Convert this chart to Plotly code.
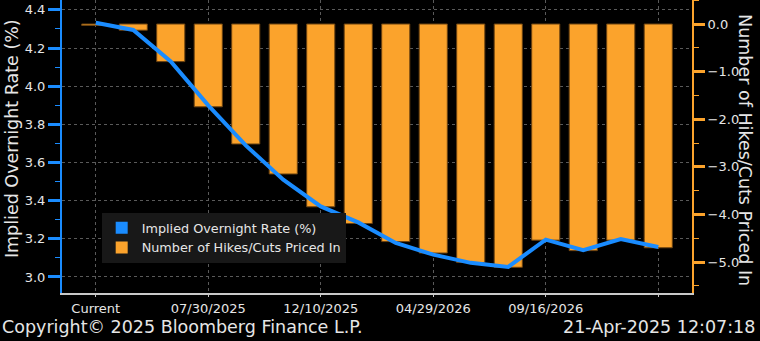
import plotly.graph_objects as go

categories = ["Current", "05/07/2025", "06/18/2025", "07/30/2025", "09/17/2025", "10/29/2025",
              "12/10/2025", "01/28/2026", "03/18/2026", "04/29/2026", "06/17/2026", "07/29/2026",
              "09/16/2026", "10/28/2026", "12/09/2026", "01/27/2027"]
implied_rate = [4.333, 4.295, 4.13, 3.90, 3.69, 3.51, 3.37, 3.286, 3.178, 3.117, 3.074, 3.053,
                3.196, 3.140, 3.199, 3.157]
hikes_cuts = [-0.03, -0.13, -0.79, -1.74, -2.52, -3.15, -3.84, -4.19, -4.57, -4.81, -5.01, -5.11,
              -4.54, -4.76, -4.54, -4.70]
x_tick_idx = [0, 3, 6, 9, 12, 15]
x_tick_text = ["Current", "07/30/2025", "12/10/2025", "04/29/2026", "09/16/2026", ""]

BLUE = "#1a8cff"
ORANGE = "#fba32c"
TXT = "#e6e6e6"
FONT = "DejaVu Sans"

fig = go.Figure()
# legend entries (square swatches)
fig.add_trace(go.Scatter(x=[None], y=[None], mode="markers", name="Implied Overnight Rate (%)",
                         marker=dict(symbol="square", size=11, color=BLUE), yaxis="y2"))
fig.add_trace(go.Scatter(x=[None], y=[None], mode="markers", name="Number of Hikes/Cuts Priced In",
                         marker=dict(symbol="square", size=11, color=ORANGE), yaxis="y2"))
fig.add_trace(go.Bar(x=categories, y=hikes_cuts, yaxis="y", name="Number of Hikes/Cuts Priced In",
                     marker=dict(color=ORANGE, line=dict(color="#6b4210", width=1)), showlegend=False))
fig.add_trace(go.Scatter(x=categories, y=implied_rate, mode="lines", line=dict(color=BLUE, width=4),
                         yaxis="y2", name="Implied Overnight Rate (%)", showlegend=False))

fig.update_layout(
    width=760, height=341,
    margin=dict(l=62, r=68, t=0, b=48),
    paper_bgcolor="black", plot_bgcolor="black",
    font=dict(family=FONT, color=TXT, size=13),
    bargap=0.25,
    xaxis=dict(type="category", range=[-0.9, 15.9],
               tickvals=[categories[i] for i in x_tick_idx], ticktext=x_tick_text,
               showgrid=True, gridcolor="#5a5a5a", griddash="dot", gridwidth=1,
               showline=True, linecolor="#c8c8c8", linewidth=2,
               ticks="outside", ticklen=2, tickcolor="#c8c8c8",
               tickfont=dict(size=13, color=TXT), zeroline=False),
    yaxis2=dict(range=[2.916, 4.452], dtick=0.2, tick0=3.0, tickformat=".1f", side="left",
                overlaying="y",
                showgrid=True, gridcolor="#5a5a5a", griddash="dot", gridwidth=1,
                showline=True, linecolor=BLUE, linewidth=2,
                ticks="outside", ticklen=12, tickwidth=3, tickcolor=BLUE,
                minor=dict(dtick=0.1, ticks="outside", ticklen=5, tickcolor=BLUE, tickwidth=1, showgrid=False),
                tickfont=dict(size=13, color=TXT), zeroline=False),
    yaxis=dict(range=[-5.65, 0.504], side="right", dtick=1, tick0=0, tickformat=".1f",
               showgrid=False, showline=True, linecolor=ORANGE, linewidth=2,
               ticks="outside", ticklen=11, tickwidth=3, tickcolor=ORANGE,
               minor=dict(dtick=0.5, ticks="outside", ticklen=5, tickcolor=ORANGE, tickwidth=1),
               tickfont=dict(size=13, color=TXT), zeroline=False),
    legend=dict(x=0.063, y=0.273, xanchor="left", yanchor="top", bgcolor="#181818",
                font=dict(size=12.8, color=TXT), tracegroupgap=0, itemsizing="constant",
                traceorder="normal"),
    annotations=[
        dict(text="Implied Overnight Rate (%)", xref="paper", yref="paper", x=-0.079, y=0.526,
             textangle=-90, showarrow=False, font=dict(size=17.5, color=TXT), xanchor="center", yanchor="middle"),
        dict(text="Number of Hikes/Cuts Priced In", xref="paper", yref="paper", x=1.084, y=0.488,
             textangle=90, showarrow=False, font=dict(size=17.5, color=TXT), xanchor="center", yanchor="middle"),
        dict(text="Copyright© 2025 Bloomberg Finance L.P.", xref="paper", yref="paper", x=-0.0984, y=-0.116,
             showarrow=False, font=dict(size=17.5, color=TXT), xanchor="left", yanchor="middle"),
        dict(text="21-Apr-2025 12:07:18", xref="paper", yref="paper", x=1.103, y=-0.116,
             showarrow=False, font=dict(size=17.5, color=TXT), xanchor="right", yanchor="middle"),
    ],
)

fig.write_html("out.html")
